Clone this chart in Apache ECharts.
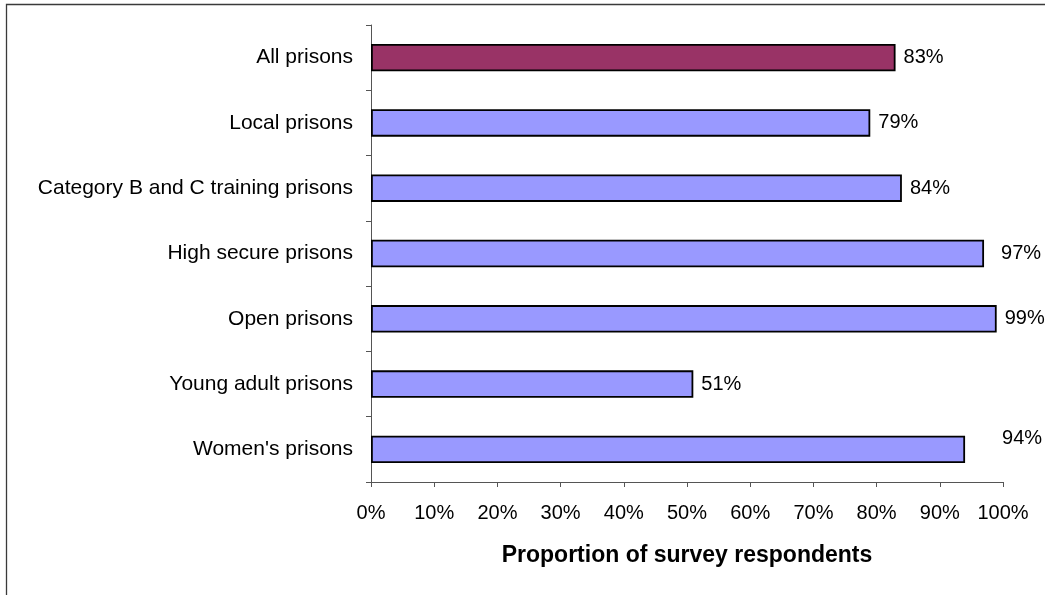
<!DOCTYPE html>
<html>
<head>
<meta charset="utf-8">
<script src="https://cdn.jsdelivr.net/npm/echarts@6/dist/echarts.min.js"></script>
<style>
html,body{margin:0;padding:0;background:#fff;}
#chart{width:1045px;height:595px;}
</style>
</head>
<body>
<div id="chart"></div>
<script>
var categories = ["All prisons", "Local prisons", "Category B and C training prisons", "High secure prisons", "Open prisons", "Young adult prisons", "Women's prisons"];
var values = [83, 79, 84, 97, 99, 51, 94];
var tickLabels = ["0%", "10%", "20%", "30%", "40%", "50%", "60%", "70%", "80%", "90%", "100%"];
var axisTitle = "Proportion of survey respondents";

var highlightColor = "#993366";
var barColor = "#9999FF";
// label nudges reproducing the reference's manually moved labels (by category index)
var labelNudges = {3: [9, 0], 6: [29, -11]};

var chart = echarts.init(document.getElementById('chart'));
var seriesData = values.map(function (v, i) {
  var item = {
    value: v,
    itemStyle: {color: i === 0 ? highlightColor : barColor}
  };
  if (labelNudges[i]) item.label = {offset: labelNudges[i]};
  return item;
});

chart.setOption({
  animation: false,
  backgroundColor: '#ffffff',
  graphic: [{
    type: 'rect',
    shape: {x: 6.5, y: 4.5, width: 1200, height: 800},
    style: {fill: 'none', stroke: '#3a3a3a', lineWidth: 1.3},
    silent: true
  }],
  grid: {left: 371, right: 42, top: 25, bottom: 113, containLabel: false},
  xAxis: {
    type: 'value',
    min: 0, max: 100, interval: 10,
    splitLine: {show: false},
    axisLine: {show: true, lineStyle: {color: '#555', width: 1}},
    axisTick: {show: true, length: 5, lineStyle: {color: '#555'}},
    axisLabel: {
      margin: 21,
      fontFamily: 'Liberation Sans, Arial, sans-serif',
      fontSize: 20, color: '#000',
      formatter: function (v) { return tickLabels[Math.round(v / 10)]; }
    },
    name: axisTitle,
    nameLocation: 'middle',
    nameGap: 62,
    nameTextStyle: {fontFamily: 'Liberation Sans, Arial, sans-serif', fontSize: 23, fontWeight: 'bold', color: '#000'}
  },
  yAxis: {
    type: 'category',
    data: categories,
    inverse: true,
    axisLine: {show: true, lineStyle: {color: '#555', width: 1}},
    axisTick: {show: true, length: 5, lineStyle: {color: '#555'}},
    axisLabel: {
      margin: 18,
      fontFamily: 'Liberation Sans, Arial, sans-serif',
      fontSize: 21, color: '#000'
    }
  },
  series: [{
    type: 'bar',
    data: seriesData,
    barCategoryGap: '58%',
    itemStyle: {borderColor: '#000', borderWidth: 1.8},
    label: {
      show: true,
      position: 'right',
      distance: 8,
      fontFamily: 'Liberation Sans, Arial, sans-serif',
      fontSize: 20, color: '#000',
      formatter: '{c}%'
    }
  }]
});
</script>
</body>
</html>
